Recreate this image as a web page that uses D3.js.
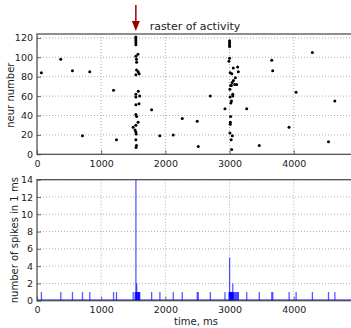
<!DOCTYPE html>
<html>
<head>
<meta charset="utf-8">
<script src="https://cdn.jsdelivr.net/npm/d3@7"></script>
<style>
  html, body { margin: 0; padding: 0; background: #fff; }
  svg { display: block; font-family: "DejaVu Sans", sans-serif; }
</style>
</head>
<body>
<svg id="chart" width="351" height="328"></svg>
<script>
// ---- data ----
const spikeTimes = [
  68, 370, 552, 708, 822, 1192, 1238,
  1540, 1540, 1540, 1540, 1540, 1540, 1540, 1540, 1540, 1540, 1540, 1540, 1540, 1540,
  1572, 1550, 1552, 1552, 1551, 1576, 1591, 1578, 1600, 1589, 1575, 1498, 1528, 1545, 1549, 1543,
  1785, 1914, 2122, 2263, 2496, 2512, 2700, 2928,
  3000, 3000, 3000, 3000, 3000, 3050, 3050, 3058,
  2990, 3126, 3136, 3010, 3035, 3090, 3060, 3040, 3015, 3028, 3080, 3110, 3005,
  3008, 3030, 3020, 3016, 3012, 3011, 3006, 3043, 3025, 3032,
  3267, 3463, 3657, 3672, 3927, 4036, 4290, 4541, 4640
];
const neuronIds = [
  84, 98, 86, 19, 85, 66, 15,
  121, 119, 117, 115, 113, 101, 82, 62, 59, 51, 41, 30, 23, 15,
  103, 98, 95, 39, 87, 85, 83, 65, 60, 52, 33, 28, 25, 21, 9, 7,
  46, 19, 20, 37, 34, 8, 60, 47,
  117, 115, 113, 111, 99, 62, 60, 89,
  96, 90, 85, 84, 83, 79, 76, 74, 71, 71, 72, 72, 67,
  59, 55, 53, 39, 33, 31, 22, 19, 15, 5,
  47, 9, 97, 86, 28, 64, 105, 13, 55
];
const stimulusTime = 1540;
const xTicks = [0, 1000, 2000, 3000, 4000];
const rasterYTicks = [0, 20, 40, 60, 80, 100, 120];
const histYTicks = [0, 2, 4, 6, 8, 10, 12, 14];
const xMax = 4920;
const nMax = 124;
const countMax = 14;

// ---- layout ----
const svg = d3.select("#chart");
const left = 37, right = 352.8;
const top1 = 34, bot1 = 154.3;
const top2 = 179.7, bot2 = 300.7;

const x = d3.scaleLinear().domain([0, xMax]).range([left, right]);
const y1 = d3.scaleLinear().domain([0, nMax]).range([bot1, top1]);
const y2 = d3.scaleLinear().domain([0, countMax]).range([bot2, top2]);

const gridColor = "#9a9a9a";
const spineColor = "#444";

function grid(g, yScale, yTicks, yTop, yBot) {
  g.selectAll(".gx").data(xTicks.slice(1)).join("line")
    .attr("x1", d => x(d)).attr("x2", d => x(d))
    .attr("y1", yTop).attr("y2", yBot)
    .attr("stroke", gridColor).attr("stroke-width", 0.8)
    .attr("stroke-dasharray", "1,2");
  g.selectAll(".gy").data(yTicks.slice(1)).join("line")
    .attr("x1", left).attr("x2", right)
    .attr("y1", d => yScale(d)).attr("y2", d => yScale(d))
    .attr("stroke", gridColor).attr("stroke-width", 0.8)
    .attr("stroke-dasharray", "1,2");
}

function axes(g, yScale, yTicks, yTop, yBot) {
  const xa = d3.axisBottom(x).tickValues(xTicks).tickSize(-4).tickPadding(6).tickFormat(d3.format("d"));
  const gx = g.append("g").attr("transform", `translate(0,${yBot})`).call(xa);
  const ya = d3.axisLeft(yScale).tickValues(yTicks).tickSize(-4).tickPadding(4).tickFormat(d3.format("d"));
  const gy = g.append("g").attr("transform", `translate(${left},0)`).call(ya);
  [gx, gy].forEach(a => {
    a.select(".domain").remove();
    a.selectAll(".tick line").attr("stroke", spineColor).attr("stroke-width", 0.8);
    a.selectAll(".tick text").attr("fill", "#222").style("font-size", "9.5px")
      .style("font-family", "DejaVu Sans, sans-serif");
  });
  // spines
  g.append("rect").attr("x", left).attr("y", yTop)
    .attr("width", right - left).attr("height", yBot - yTop)
    .attr("fill", "none").attr("stroke", spineColor).attr("stroke-width", 1.2);
}

// ---- top: raster ----
const g1 = svg.append("g");
grid(g1, y1, rasterYTicks, top1, bot1);
g1.selectAll("circle.spk").data(d3.range(spikeTimes.length)).join("circle")
  .attr("class", "spk")
  .attr("cx", i => x(spikeTimes[i]))
  .attr("cy", i => y1(neuronIds[i]))
  .attr("r", 1.5)
  .attr("fill", "#000");
axes(g1, y1, rasterYTicks, top1, bot1);

g1.append("text").attr("x", 195).attr("y", 29.5).attr("text-anchor", "middle")
  .style("font-size", "11px").attr("fill", "#222").text("raster of activity");
g1.append("text").attr("transform", `translate(13.5,${(top1 + bot1) / 2 + 1}) rotate(-90)`)
  .attr("text-anchor", "middle").style("font-size", "10px").attr("fill", "#222")
  .text("neur number");

// stimulus arrow
const ax = x(stimulusTime);
svg.append("line").attr("x1", ax).attr("x2", ax).attr("y1", 5).attr("y2", 23)
  .attr("stroke", "#9b0000").attr("stroke-width", 1.5);
svg.append("path")
  .attr("d", `M${ax - 4},21 L${ax + 4},21 L${ax},31 Z`)
  .attr("fill", "#9b0000");

// ---- bottom: histogram ----
const bins = d3.bin().domain([0, xMax]).thresholds(d3.range(0, xMax + 1, 1))(spikeTimes)
  .filter(b => b.length > 0);
const g2 = svg.append("g");
grid(g2, y2, histYTicks, top2, bot2);
g2.append("line").attr("x1", left).attr("x2", right)
  .attr("y1", y2(0) - 0.8).attr("y2", y2(0) - 0.8)
  .attr("stroke", "#5c5cff").attr("stroke-width", 1.4);
g2.selectAll("rect.bar").data(bins).join("rect")
  .attr("class", "bar")
  .attr("x", b => x(b.x0) - 0.6)
  .attr("width", 1.3)
  .attr("y", b => y2(b.length))
  .attr("height", b => y2(0) - y2(b.length))
  .attr("fill", "#0000ff").attr("fill-opacity", 0.65);
axes(g2, y2, histYTicks, top2, bot2);

g2.append("text").attr("transform", `translate(18,${(top2 + bot2) / 2}) rotate(-90)`)
  .attr("text-anchor", "middle").style("font-size", "10px").attr("fill", "#222")
  .text("number of spikes in 1 ms");
g2.append("text").attr("x", 196).attr("y", 325).attr("text-anchor", "middle")
  .style("font-size", "10px").attr("fill", "#222").text("time, ms");
</script>
</body>
</html>
